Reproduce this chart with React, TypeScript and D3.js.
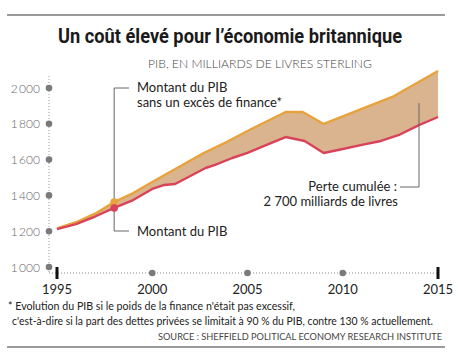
import React from "react";
import * as d3 from "d3";

const yTicks = [1000, 1200, 1400, 1600, 1800, 2000];
const xTickYears = [1995, 2000, 2005, 2010, 2015];

// Montant du PIB (red)
const pibYears = [1995, 1996, 1997, 1998, 1999, 2000, 2000.6, 2001.2, 2001.9, 2002.8, 2003.3, 2004.2, 2005, 2006, 2007, 2008, 2009, 2010, 2011, 2012, 2013, 2014, 2015];
const pibValues = [1212, 1240, 1282, 1330, 1374, 1436, 1458, 1464, 1503, 1553, 1570, 1609, 1637, 1682, 1726, 1704, 1637, 1659, 1682, 1704, 1740, 1793, 1838];

// Montant du PIB sans un excès de finance (orange)
const altYears = [1995, 1996, 1997, 1998, 1999, 2000, 2001.3, 2002.7, 2003.9, 2005.2, 2007, 2007.9, 2009, 2012.6, 2015];
const altValues = [1216, 1250, 1298, 1363, 1413, 1475, 1553, 1637, 1698, 1771, 1866, 1866, 1799, 1950, 2095];

const markerYear = 1998;

const W = 458;
const H = 356;

export default function App() {
  const x = d3.scaleLinear().domain([1995, 2015]).range([57, 438]);
  const y = d3.scaleLinear().domain([1000, 2000]).range([267, 88]);

  const pib = pibYears.map((yr, i) => [yr, pibValues[i]] as [number, number]);
  const alt = altYears.map((yr, i) => [yr, altValues[i]] as [number, number]);

  const line = d3
    .line<[number, number]>()
    .x((d) => x(d[0]))
    .y((d) => y(d[1]));

  const areaPts = [...alt, ...pib.slice().reverse()];
  const areaPath = line(areaPts) + "Z";

  const mi = pibYears.indexOf(markerYear);
  const ai = altYears.indexOf(markerYear);
  const mx = x(markerYear);
  const myRed = y(pibValues[mi]);
  const myAlt = y(altValues[ai]);

  const fontSans = "Lato, 'Open Sans', sans-serif";
  const axisY = 273;

  return (
    <svg width={W} height={H} style={{ position: "absolute", left: 0, top: 0 }}>
      <rect width={W} height={H} fill="#fff" />
      <line x1={7} x2={445} y1={15} y2={15} stroke="#9a9a9a" strokeWidth={2.2} />
      <text
        x={230}
        y={43}
        textAnchor="middle"
        fontFamily="Roboto, sans-serif"
        fontWeight={700}
        fontSize={21}
        fill="#1a1a1a"
        textLength={344}
        lengthAdjust="spacingAndGlyphs"
      >
        Un coût élevé pour l’économie britannique
      </text>
      <text
        x={148}
        y={68}
        fontFamily={fontSans}
        fontSize={11}
        fontWeight={300}
        fill="#444"
        textLength={224}
        lengthAdjust="spacingAndGlyphs"
      >
        PIB, EN MILLIARDS DE LIVRES STERLING
      </text>

      {/* axes */}
      <line x1={49} x2={49} y1={76} y2={axisY} stroke="#999" strokeWidth={1} strokeDasharray="1,2" />
      <line x1={49} x2={438} y1={axisY} y2={axisY} stroke="#888" strokeWidth={1} strokeDasharray="1,2" />
      {yTicks.map((t) => (
        <g key={t}>
          <circle cx={49} cy={y(t)} r={3.3} fill="#7a7a7a" />
          <text
            x={40}
            y={y(t) + 4.5}
            textAnchor="end"
            fontFamily={fontSans}
            fontSize={12}
            fontWeight={300}
            fill="#666"
          >
            {d3.format(",")(t).replace(",", "\u2009")}
          </text>
        </g>
      ))}
      {xTickYears.map((t, i) => (
        <g key={t}>
          {i === 0 || i === xTickYears.length - 1 ? (
            <rect x={x(t) - 1.5} y={axisY - 6} width={3} height={12} fill="#111" />
          ) : (
            <circle cx={x(t)} cy={axisY} r={3.3} fill="#7a7a7a" />
          )}
          <text
            x={x(t)}
            y={294}
            textAnchor="middle"
            fontFamily={fontSans}
            fontSize={13}
            fill="#222"
          >
            {t}
          </text>
        </g>
      ))}

      {/* area + lines */}
      <path d={areaPath} fill="#d9b48e" stroke="none" />
      <path d={line(alt) || ""} fill="none" stroke="#e8a23c" strokeWidth={2.4} strokeLinejoin="round" />
      <path d={line(pib) || ""} fill="none" stroke="#d9435a" strokeWidth={2.4} strokeLinejoin="round" />

      {/* annotations */}
      <path d={`M${mx},${myAlt} V88 H129`} fill="none" stroke="#666" strokeWidth={1} />
      <path d={`M${mx},${myRed} V231 H129`} fill="none" stroke="#666" strokeWidth={1} />
      <circle cx={mx} cy={myAlt} r={3.8} fill="#e8a23c" />
      <circle cx={mx} cy={myRed} r={3.8} fill="#d9435a" />
      <text x={137} y={92} fontFamily={fontSans} fontSize={13} fill="#222">
        Montant du PIB
      </text>
      <text x={137} y={107} fontFamily={fontSans} fontSize={13} fill="#222">
        sans un excès de finance*
      </text>
      <text x={137} y={236} fontFamily={fontSans} fontSize={13} fill="#222">
        Montant du PIB
      </text>

      <path d="M419,103 V187 H400" fill="none" stroke="#666" strokeWidth={1} />
      <text x={397} y={191} textAnchor="end" fontFamily={fontSans} fontSize={13} fill="#222">
        Perte cumulée :
      </text>
      <text x={398} y={206} textAnchor="end" fontFamily={fontSans} fontSize={13} fill="#222">
        2 700 milliards de livres
      </text>

      {/* footnotes */}
      <text
        x={8}
        y={310}
        fontFamily={fontSans}
        fontSize={10.5}
        fill="#222"
        textLength={287}
        lengthAdjust="spacingAndGlyphs"
      >
        * Evolution du PIB si le poids de la finance n'était pas excessif,
      </text>
      <text
        x={12}
        y={325}
        fontFamily={fontSans}
        fontSize={10.5}
        fill="#222"
        textLength={421}
        lengthAdjust="spacingAndGlyphs"
      >
        c'est-à-dire si la part des dettes privées se limitait à 90 % du PIB, contre 130 % actuellement.
      </text>
      <text
        x={442}
        y={340}
        textAnchor="end"
        fontFamily={fontSans}
        fontSize={9.5}
        fill="#444"
        textLength={284}
        lengthAdjust="spacingAndGlyphs"
      >
        SOURCE : SHEFFIELD POLITICAL ECONOMY RESEARCH INSTITUTE
      </text>
      <line x1={7} x2={445} y1={347} y2={347} stroke="#9a9a9a" strokeWidth={2} />
    </svg>
  );
}
